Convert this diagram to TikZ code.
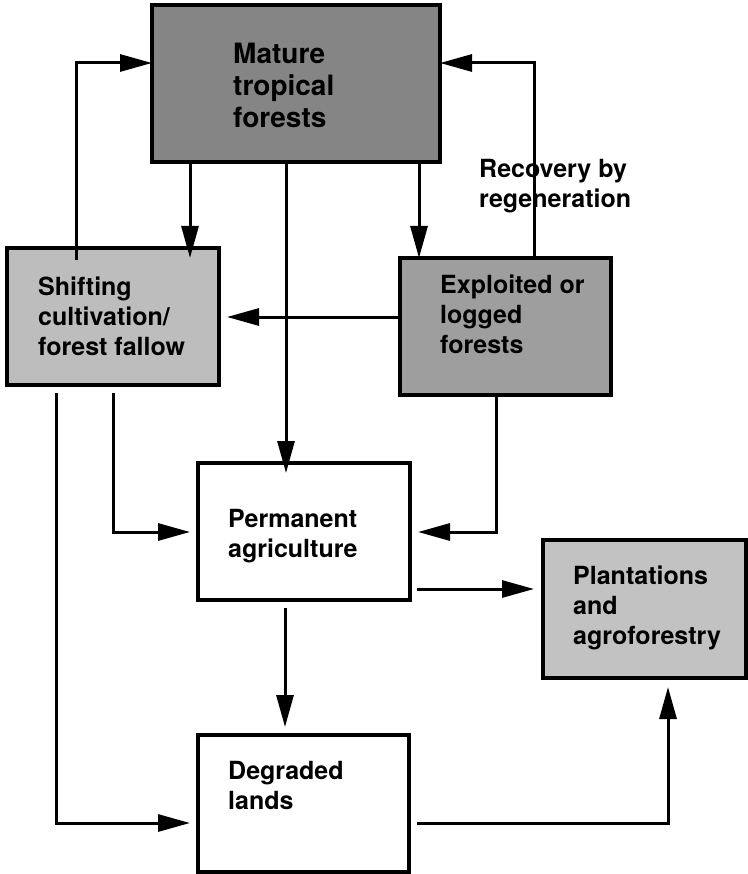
\documentclass[tikz,border=0pt]{standalone}
\usepackage{fontspec}
\setmainfont{TeX Gyre Heros}
\usetikzlibrary{arrows.meta,calc}
\definecolor{greyA}{gray}{0.52}
\definecolor{greyB}{gray}{0.62}
\definecolor{greyC}{gray}{0.74}
\definecolor{greyD}{gray}{0.76}
\begin{document}
\begin{tikzpicture}[x=1pt,y=-1pt,
  box/.style={draw=black,line width=3.5pt,inner sep=0pt,outer sep=0pt},
  lbl/.style={anchor=north west,inner sep=0pt,align=left,font=\bfseries\fontsize{25}{30}\selectfont},
  conn/.style={line width=3pt,-{Triangle[length=32pt,width=17pt]}}]
\useasboundingbox (0,0) rectangle (747,874);
% helper coordinates
\coordinate (c56) at (56,0);
\coordinate (c76) at (76,0);
\coordinate (c113) at (113,0);
\coordinate (c190) at (190,0);
\coordinate (c285) at (285,0);
\coordinate (c286) at (286,0);
\coordinate (c419) at (419,0);
\coordinate (c496) at (496,0);
\coordinate (c534) at (534,0);
\coordinate (c668) at (668,0);
\coordinate (c63) at (0,63);
\coordinate (c317) at (0,317);
\coordinate (c532) at (0,532);
\coordinate (c589) at (0,589);
\coordinate (c823) at (0,823);
% boxes
\node[box,fill=greyA,minimum width=288pt,minimum height=157pt] (mature) at (296,83.5) {};
\node[box,fill=greyC,minimum width=212pt,minimum height=137pt] (shift) at (113,316.5) {};
\node[box,fill=greyB,minimum width=211pt,minimum height=137pt] (expl) at (505.5,326.5) {};
\node[box,fill=white,minimum width=212pt,minimum height=137pt] (perm) at (304,531.5) {};
\node[box,fill=greyD,minimum width=203pt,minimum height=138pt] (plant) at (644.5,609) {};
\node[box,fill=white,minimum width=211pt,minimum height=137pt] (degr) at (303.5,803.5) {};
% texts
\node[lbl,font=\bfseries\fontsize{28}{32}\selectfont] (tmature) at (233,43) {Mature\\tropical\\forests};
\node[lbl] (tshift) at (38,277) {Shifting\\cultivation/\\forest fallow};
\node[lbl] (texpl) at (440,275) {Exploited or\\logged\\forests};
\node[lbl] (tperm) at (228,509) {Permanent\\agriculture};
\node[lbl] (tplant) at (573,566) {Plantations\\and\\agroforestry};
\node[lbl] (tdegr) at (228,761) {Degraded\\lands};
% connectors
\draw[conn] (c190 |- mature.south) -- ($(c190 |- shift.north)+(0,10)$);
\draw[conn] ($(c76 |- shift.north)+(0,12)$) |- (mature.west |- c63);
\draw[conn] (c534 |- expl.north) |- (mature.east |- c63);
\draw[conn] (c419 |- mature.south) -- (c419 |- expl.north);
\draw[conn] (c286 |- mature.south) -- ($(c286 |- perm.north)+(0,10)$);
\draw[conn] (expl.west |- c317) -- ($(shift.east |- c317)+(8,0)$);
\draw[conn] ($(c113 |- shift.south)+(0,8)$) |- ($(perm.west |- c532)+(-8,0)$);
\draw[conn] ($(c56 |- shift.south)+(0,8)$) |- ($(degr.west |- c823)+(-8,0)$);
\draw[conn] (c496 |- expl.south) |- ($(perm.east |- c532)+(8,0)$);
\draw[conn] ($(perm.east |- c589)+(7,0)$) -- ($(plant.west |- c589)+(-9,0)$);
\draw[conn] ($(c285 |- perm.south)+(0,8)$) -- ($(c285 |- degr.north)+(0,-8)$);
\draw[conn] ($(degr.east |- c823)+(8,0)$) -| ($(c668 |- plant.south)+(0,9)$);
% label
\node[lbl] (trec) at (479,159) {Recovery by\\regeneration};
\end{tikzpicture}
\end{document}
